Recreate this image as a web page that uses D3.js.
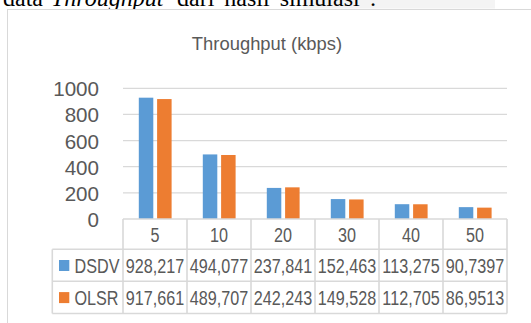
<!DOCTYPE html>
<html>
<head>
<meta charset="utf-8">
<script src="https://cdn.jsdelivr.net/npm/d3@7"></script>
<style>
  html, body { margin: 0; padding: 0; background: #fff; }
  svg { display: block; }
</style>
</head>
<body>
<svg id="chart" width="531" height="323"></svg>
<script>
// ---- data ----
const categories = ["5", "10", "20", "30", "40", "50"];
const seriesNames = ["DSDV", "OLSR"];
const dsdvValues = [928.217, 494.077, 237.841, 152.463, 113.275, 90.7397];
const olsrValues = [917.661, 489.707, 242.243, 149.528, 112.705, 86.9513];
const yTickValues = [0, 200, 400, 600, 800, 1000];
const seriesColors = ["#5B9BD5", "#ED7D31"];
const chartTitle = "Throughput (kbps)";

const series = [dsdvValues, olsrValues];

// ---- layout ----
const svg = d3.select("#chart");
const W = 531, H = 323;
const plotLeft = 123, plotRight = 507, plotTop = 88.3, plotBottom = 219;
const rowLines = [249.3, 281.3, 313.5];
const legendLeft = 52.3;
const gridColor = "#d9d9d9";
const textColor = "#595959";
const sans = "'Liberation Sans', Arial, sans-serif";
const tblSize = 19.5, tblScale = 0.83;

// document background pieces
svg.append("rect").attr("x", 303).attr("y", 0).attr("width", 192).attr("height", 8.5).attr("fill", "#f4f4f4");
const doc = svg.append("g").attr("font-family", "'Liberation Serif', 'Times New Roman', serif")
  .attr("font-size", 24).attr("fill", "#000");
doc.append("text").attr("x", 3).attr("y", 6.3).text("data");
doc.append("text").attr("x", 51).attr("y", 6.3).attr("font-style", "italic").text("Throughput");
doc.append("text").attr("x", 177).attr("y", 6.3).attr("word-spacing", 4).text("dari hasil simulasi :");

// chart frame
svg.append("rect").attr("x", 7.5).attr("y", 9.5).attr("width", W + 10).attr("height", H + 10)
  .attr("fill", "#fff").attr("stroke", gridColor).attr("stroke-width", 1);

// title
svg.append("text").attr("x", 267).attr("y", 50).attr("text-anchor", "middle")
  .attr("font-family", sans).attr("font-size", 18.4).attr("fill", textColor).text(chartTitle);

// scales
const x0 = d3.scaleBand().domain(categories).range([plotLeft, plotRight]).padding(0);
const x1 = d3.scaleBand().domain(seriesNames).range([15.8, 48.6]).paddingInner(0.208).paddingOuter(0);
const y = d3.scaleLinear().domain([0, 1000]).range([plotBottom, plotTop]);

// gridlines
svg.append("g").selectAll("line").data(yTickValues.filter(d => d > 0)).join("line")
  .attr("x1", plotLeft).attr("x2", plotRight)
  .attr("y1", d => y(d)).attr("y2", d => y(d))
  .attr("stroke", gridColor).attr("stroke-width", 1.2);

// y axis labels
const yAxis = d3.axisLeft(y).tickValues(yTickValues).tickFormat(d3.format("d")).tickSize(0).tickPadding(0);
const yg = svg.append("g").attr("transform", "translate(99,0)").call(yAxis);
yg.select(".domain").remove();
yg.selectAll("text").attr("font-family", sans).attr("font-size", 20.6).attr("fill", textColor)
  .attr("dy", "0.36em");

// bars
const groups = svg.append("g").selectAll("g").data(categories).join("g")
  .attr("transform", d => `translate(${x0(d)},0)`);
groups.selectAll("rect").data((c, i) => seriesNames.map((s, k) => ({ s, k, v: series[k][i] }))).join("rect")
  .attr("x", d => x1(d.s))
  .attr("width", x1.bandwidth())
  .attr("y", d => y(d.v))
  .attr("height", d => y(0) - y(d.v))
  .attr("fill", d => seriesColors[d.k]);

// data table lines
const tbl = svg.append("g").attr("stroke", gridColor).attr("stroke-width", 1.6).attr("fill", "none");
tbl.append("line").attr("x1", plotLeft).attr("x2", plotRight).attr("y1", plotBottom).attr("y2", plotBottom);
rowLines.forEach(ry => tbl.append("line").attr("x1", legendLeft).attr("x2", plotRight).attr("y1", ry).attr("y2", ry));
tbl.append("line").attr("x1", legendLeft).attr("x2", legendLeft).attr("y1", rowLines[0]).attr("y2", rowLines[2]);
const colEdges = categories.map(c => x0(c)).concat([plotRight]);
colEdges.forEach(cx => tbl.append("line").attr("x1", cx).attr("x2", cx).attr("y1", plotBottom).attr("y2", rowLines[2]));

function tblText(sel, anchor) {
  return sel.attr("text-anchor", anchor).attr("dy", "0.36em")
    .attr("font-family", sans).attr("font-size", tblSize).attr("fill", textColor);
}

// category labels
tblText(svg.append("g").selectAll("text").data(categories).join("text")
  .attr("transform", d => `translate(${x0(d) + x0.bandwidth() / 2},${(plotBottom + rowLines[0]) / 2 + 0.5}) scale(${tblScale},1)`), "middle")
  .text(d => d);

// value rows
seriesNames.forEach((name, k) => {
  const cy = (rowLines[k] + rowLines[k + 1]) / 2 + 1;
  svg.append("rect").attr("x", 59).attr("y", cy - 6.3).attr("width", 10.3).attr("height", 11)
    .attr("fill", seriesColors[k]);
  tblText(svg.append("text").attr("transform", `translate(74.5,${cy}) scale(${tblScale},1)`), "start").text(name);
  tblText(svg.append("g").selectAll("text").data(series[k]).join("text")
    .attr("transform", (d, i) => `translate(${x0(categories[i]) + x0.bandwidth() / 2},${cy}) scale(${tblScale},1)`), "middle")
    .text(d => String(d).replace(".", ","));
});
</script>
</body>
</html>
